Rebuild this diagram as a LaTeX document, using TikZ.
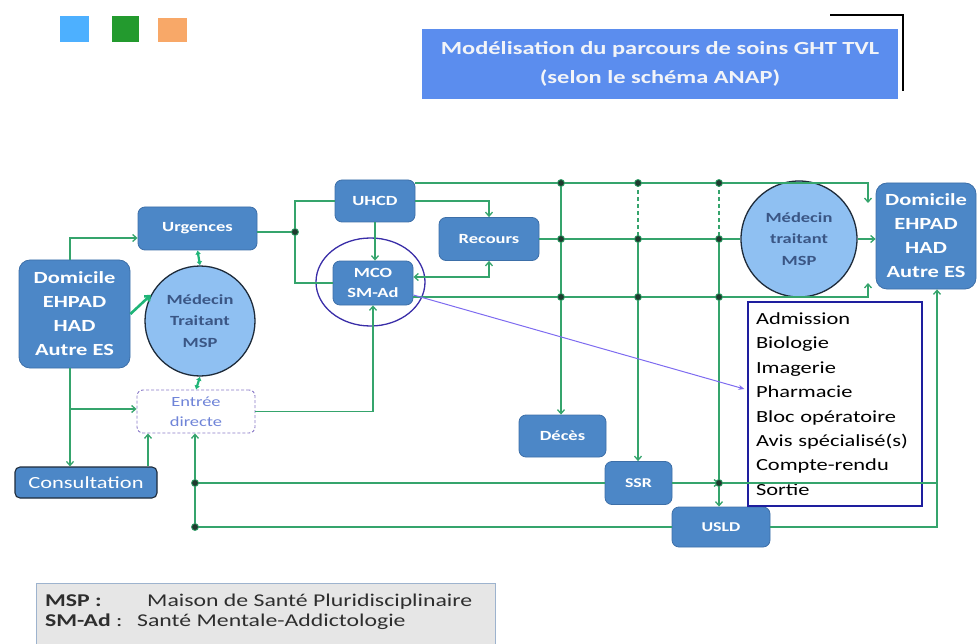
\documentclass[tikz,border=0pt]{standalone}
\usepackage{fontspec}
\setmainfont{Carlito}[FakeStretch=1.32]
\usetikzlibrary{arrows.meta,calc,shapes.geometric}
\definecolor{boxblue}{HTML}{4C87C7}
\definecolor{boxedge}{HTML}{3D6FA8}
\definecolor{lightblue}{HTML}{8FC0F2}
\definecolor{circedge}{HTML}{1E2B3A}
\definecolor{medtext}{HTML}{3A5685}
\definecolor{flowgreen}{HTML}{35A46C}
\definecolor{markgreen}{HTML}{1FB477}
\definecolor{dotfill}{HTML}{1F3B2F}
\definecolor{ellc}{HTML}{3A2EA8}
\definecolor{purp}{HTML}{7E6BF0}
\definecolor{adminedge}{HTML}{1E1E9E}
\definecolor{titleblue}{HTML}{5B8DEE}
\definecolor{titletext}{HTML}{F2F4F8}
\definecolor{entreeedge}{HTML}{8A7AC8}
\definecolor{entreetext}{HTML}{6F84D8}
\definecolor{sqblue}{HTML}{4DB0FF}
\definecolor{sqgreen}{HTML}{239A2E}
\definecolor{sqorange}{HTML}{F8A868}
\definecolor{leggray}{HTML}{E6E6E6}
\definecolor{legedge}{HTML}{9DB3CE}
\definecolor{legtext}{HTML}{2E2E2E}
\begin{document}
\begin{tikzpicture}[x=1pt,y=-1pt,
  box/.style={rectangle, rounded corners=7pt, fill=boxblue, draw=boxedge, line width=0.8pt,
    text=white, align=center, inner sep=0pt, font=\bfseries\fontsize{14}{20}\selectfont},
  medc/.style={circle, fill=lightblue, draw=circedge, line width=1.3pt, text=medtext,
    align=center, inner sep=0pt, font=\bfseries\fontsize{14}{21.5}\selectfont},
  flow/.style={draw=flowgreen, line width=1.3pt},
  flowdash/.style={draw=flowgreen, line width=1.1pt, dash pattern=on 4pt off 3pt},
  arr/.style={-{Straight Barb[length=4pt,width=7pt]}},
  arrboth/.style={{Straight Barb[length=4pt,width=7pt]}-{Straight Barb[length=4pt,width=7pt]}},
  markarr/.style={draw=markgreen, line width=2.2pt, {Latex[length=4pt,width=6pt]}-{Latex[length=4pt,width=6pt]}},
  jdot/.style={circle, fill=dotfill, draw=flowgreen, line width=0.8pt, inner sep=0pt, minimum size=7pt}
]
\useasboundingbox (0,0) rectangle (979,644);

% colour squares
\fill[sqblue] (60,16) rectangle (89,42);
\fill[sqgreen] (112,16) rectangle (139,42);
\fill[sqorange] (158,18) rectangle (187,42);

% title
\node[rectangle, fill=titleblue, text=titletext, minimum width=476pt, minimum height=70pt,
  inner sep=0pt, align=center, font=\bfseries\fontsize{18.5}{29}\selectfont] (title) at (660,64)
  {Modélisation du parcours de soins GHT TVL\\(selon le schéma ANAP)};
\draw[black, line width=1.2pt] (830,15) -- (903,15) -- (903,91);

% nodes
\node[box, minimum width=111pt, minimum height=108pt, rounded corners=11pt,
  font=\bfseries\fontsize{17}{24}\selectfont] (domL) at (74.5,314) {Domicile\\EHPAD\\HAD\\Autre ES};
\node[box, minimum width=119pt, minimum height=43pt] (urg) at (197.5,228.5) {Urgences};
\node[medc, minimum size=110pt] (medL) at (200,321) {Médecin\\Traitant\\MSP};
\node[rectangle, rounded corners=6pt, draw=entreeedge, dash pattern=on 3pt off 2pt, line width=0.9pt,
  fill=white, text=entreetext, align=center, inner sep=0pt, minimum width=118pt, minimum height=43pt,
  font=\fontsize{14}{20}\selectfont] (entree) at (196,411.5) {Entrée\\directe};
\node[box, draw=circedge, line width=1.1pt, rounded corners=5pt, minimum width=142pt, minimum height=31pt,
  font=\fontsize{17}{18}\selectfont] (consult) at (86,482.5) {Consultation};
\node[box, minimum width=80pt, minimum height=42pt] (uhcd) at (375,201) {UHCD};
\node[box, minimum width=100pt, minimum height=43pt] (recours) at (489,239) {Recours};
\node[box, minimum width=80pt, minimum height=44pt] (mco) at (373,283) {MCO\\SM-Ad};
\node[ellipse, draw=ellc, line width=1.3pt, minimum width=109pt, minimum height=88pt, inner sep=0pt] (mcoring) at (370.5,282) {};
\node[box, minimum width=87pt, minimum height=42pt] (deces) at (562.5,436) {Décès};
\node[box, minimum width=67pt, minimum height=43pt, font=\bfseries\fontsize{13.5}{20}\selectfont] (ssr) at (638.5,483) {SSR};
\node[box, minimum width=98pt, minimum height=40pt, font=\bfseries\fontsize{13.5}{20}\selectfont] (usld) at (721,527) {USLD};
\node[medc, minimum size=116pt] (medR) at (799,239) {Médecin\\traitant\\MSP};
\node[box, minimum width=100pt, minimum height=106pt, rounded corners=11pt,
  font=\bfseries\fontsize{17}{24}\selectfont] (domR) at (926,236) {Domicile\\EHPAD\\HAD\\Autre ES};
\node[rectangle, draw=adminedge, line width=1.2pt, inner xsep=8pt, inner ysep=0pt, text width=158pt,
  minimum height=204pt, align=left, text=black, font=\fontsize{17}{24.4}\selectfont] (admin) at (835,404)
  {Admission\\Biologie\\Imagerie\\Pharmacie\\Bloc opératoire\\Avis spécialisé(s)\\Compte-rendu\\Sortie};

% junction coordinates
\coordinate (a1) at (561,183); \coordinate (a2) at (638,183); \coordinate (a3) at (719,183);
\coordinate (b1) at (561,239); \coordinate (b2) at (638,239); \coordinate (b3) at (719,239);
\coordinate (c1) at (561,297); \coordinate (c2) at (638,297); \coordinate (c3) at (719,297);
\coordinate (jS) at (719,483); \coordinate (r1) at (937,483);
\coordinate (jL1) at (195,483); \coordinate (jL2) at (195,527);
\coordinate (j1) at (295,232);
\coordinate (cTop) at (868,203); \coordinate (cMid) at (868,283);
\coordinate (d1) at (70,238); \coordinate (d2) at (70,409); \coordinate (d3) at (148,0);
\coordinate (e1) at (0,277);

% left side connectors
\draw[flow,arr] (d1 |- domL.north) -- (d1) -- (d1 -| urg.west);
\draw[flow,arr] (d1 |- domL.south) -- (d1 |- consult.north);
\draw[flow,arr] (d2) -- (d2 -| entree.west);
\draw[flow,arr] (consult.north -| d3) -- (entree.south -| d3);
\draw[markgreen, line width=2.6pt, arr] (domL.east) -- (medL.152);
\draw[markarr] (urg.south) -- (medL.north);
\draw[markarr] (medL.south) -- (entree.north);

% urgences split
\draw[flow] (urg.east |- j1) -- (j1);
\draw[flow] (uhcd.west) -| (j1) |- (mco.west);
\draw[flow,arr] (uhcd.south) -- (uhcd.south |- mco.north);
\draw[flow,arr] (uhcd.east) -| (recours.north);
\draw[flow,arrboth] (mco.east |- e1) -| (recours.south);
\draw[flow,arr] (entree.east) -| (mco.south);

% main horizontal lines
\draw[flow,arr] (uhcd.east |- a1) -- (a1) -- (a2) -- (a3) -| (cTop);
\draw[flow] (recours.east) -- (medR.west);
\draw[flow,arr] (medR.east) -- (medR.east -| domR.west);
\draw[flow,arr] (mco.east |- c1) -- (c1) -- (c2) -- (c3) -| (cMid);

% verticals
\draw[flow,arr] (a1) -- (a1 |- deces.north);
\draw[flowdash] (a2) -- (b2);
\draw[flow,arr] (b2) -- (b2 |- ssr.north);
\draw[flowdash] (a3) -- (b3);
\draw[flow,arr] (b3) -- (b3 |- usld.north);

% SSR / USLD connectors
\draw[flow,arr] (ssr.east) -- (jS);
\draw[flow] (jS) -- (r1);
\draw[flow,arr] (usld.east) -| (domR.south -| r1);
\draw[flow] (ssr.west) -- (jL1);
\draw[flow] (usld.west) -- (jL2);
\draw[flow,arr] (jL2) -- (jL2 |- entree.south);

% MCO -> admin box
\draw[purp, line width=1pt, -{Stealth[length=6pt,width=5pt]}] ($(mco.east)+(0,12)$) -- ($(admin.west)+(-3,-15)$);

% junction dots
\foreach \p in {a1,a2,a3,b1,b2,b3,c1,c2,c3,jS,jL1,jL2,j1}
  \node[jdot] at (\p) {};

% legend
\begin{scope}
\clip (0,0) rectangle (979,644);
\draw[fill=leggray, draw=legedge, line width=1pt] (36,583) rectangle (495,660);
\end{scope}
\node[anchor=base west, inner sep=0pt, text=legtext, font=\bfseries\fontsize{18}{20}\selectfont] (lgA) at (45,606) {MSP :};
\node[anchor=base west, inner sep=0pt, text=legtext, font=\fontsize{18}{20}\selectfont] (lgB) at (147,606) {Maison de Santé Pluridisciplinaire};
\node[anchor=base west, inner sep=0pt, text=legtext, font=\fontsize{18}{20}\selectfont] (lgC) at (45,626) {\textbf{SM-Ad} :};
\node[anchor=base west, inner sep=0pt, text=legtext, font=\fontsize{18}{20}\selectfont] (lgD) at (137,626) {Santé Mentale-Addictologie};
\end{tikzpicture}
\end{document}
